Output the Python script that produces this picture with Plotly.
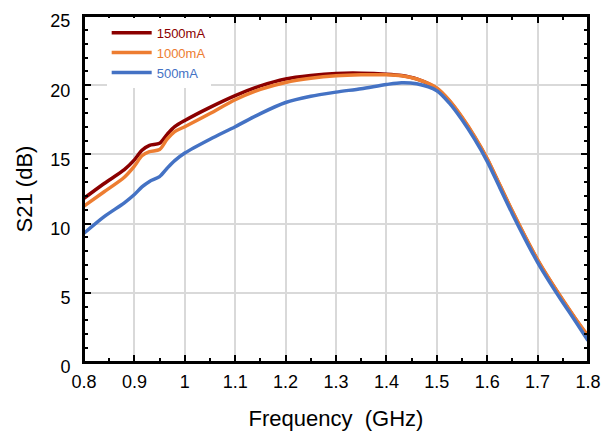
import plotly.graph_objects as go

freq = [0.80, 0.84, 0.88, 0.90, 0.915, 0.93, 0.95, 0.965, 0.98,
        1.00, 1.05, 1.10, 1.15, 1.20, 1.25, 1.30, 1.35, 1.40, 1.43, 1.46,
        1.50, 1.525, 1.55, 1.575, 1.60, 1.625, 1.65, 1.675, 1.70, 1.725, 1.75, 1.775, 1.80]

s21_1500 = [11.83, 12.9, 13.9, 14.6, 15.3, 15.65, 15.8, 16.45, 17.0,
            17.45, 18.4, 19.25, 19.95, 20.45, 20.7, 20.85, 20.87, 20.8, 20.7, 20.45,
            19.75, 18.85, 17.65, 16.25, 14.65, 12.75, 10.85, 9.05, 7.35, 5.85, 4.45, 3.1, 1.8]

s21_1000 = [11.27, 12.3, 13.35, 14.15, 14.9, 15.2, 15.35, 16.1, 16.65,
            17.0, 17.95, 18.95, 19.7, 20.2, 20.5, 20.68, 20.75, 20.75, 20.68, 20.45,
            19.8, 18.9, 17.7, 16.3, 14.7, 12.8, 10.9, 9.1, 7.4, 5.9, 4.5, 3.15, 1.9]

s21_500 = [9.3, 10.5, 11.5, 12.1, 12.65, 13.05, 13.4, 14.0, 14.55,
           15.1, 16.1, 17.0, 17.95, 18.75, 19.2, 19.5, 19.75, 20.05, 20.18, 20.1,
           19.6, 18.7, 17.5, 16.1, 14.5, 12.6, 10.7, 8.9, 7.2, 5.7, 4.3, 2.95, 1.55]

series_names = ["1500mA", "1000mA", "500mA"]
series_colors = ["#8B0000", "#ED7D31", "#4472C4"]
series_values = [s21_1500, s21_1000, s21_500]

x_ticks = [0.8, 0.9, 1.0, 1.1, 1.2, 1.3, 1.4, 1.5, 1.6, 1.7, 1.8]
x_labels = ["0.8", "0.9", "1", "1.1", "1.2", "1.3", "1.4", "1.5", "1.6", "1.7", "1.8"]
y_ticks = [0, 5, 10, 15, 20, 25]

FONT = "Liberation Sans, Arial, sans-serif"

fig = go.Figure()
for name, color, vals in zip(series_names, series_colors, series_values):
    fig.add_trace(go.Scatter(
        x=freq, y=vals, mode="lines",
        name=f'<span style="color:{color}">{name}</span>',
        line=dict(color=color, width=3.5, shape="spline", smoothing=0.8),
    ))

axis_common = dict(
    showline=True, linecolor="black", linewidth=2, mirror="ticks",
    ticks="inside", ticklen=7, tickwidth=1.5, tickcolor="black",
    showgrid=True, gridcolor="#D9D9D9", gridwidth=1.5,
    zeroline=False, automargin=False,
    tickfont=dict(family=FONT, size=18, color="black"),
)

fig.update_xaxes(
    **axis_common,
    range=[0.8, 1.8], tickvals=x_ticks, ticktext=x_labels,
    minor=dict(dtick=0.05, ticks="inside", ticklen=4, tickwidth=1.5, tickcolor="black", showgrid=False),
    title=dict(text="Frequency\u00a0 (GHz)", font=dict(family=FONT, size=22, color="black"), standoff=21),
    ticklabelstandoff=2,
)
fig.update_yaxes(
    **axis_common,
    range=[0, 25], tickvals=y_ticks,
    minor=dict(dtick=1, ticks="inside", ticklen=4, tickwidth=1.5, tickcolor="black", showgrid=False),
    title=dict(text="S21 (dB)", font=dict(family=FONT, size=22, color="black"), standoff=12),
    ticklabelstandoff=8, ticklabelshift=5,
)

fig.update_layout(
    width=605, height=431,
    margin=dict(l=84, r=17, t=16, b=69),
    paper_bgcolor="white", plot_bgcolor="white",
    showlegend=True,
    legend=dict(
        x=0.045, y=0.995, xanchor="left", yanchor="top",
        bgcolor="white", borderwidth=0,
        font=dict(family=FONT, size=13),
        tracegroupgap=0, itemwidth=40,
    ),
    shapes=[dict(type="rect", xref="paper", yref="paper", x0=0, x1=1, y0=0, y1=1,
                 line=dict(color="black", width=2), fillcolor="rgba(0,0,0,0)", layer="above")],
)

fig.write_html(
    "out.html",
    config={"displayModeBar": False},
    post_script="document.body.style.margin='0';document.body.style.overflow='hidden';",
)
